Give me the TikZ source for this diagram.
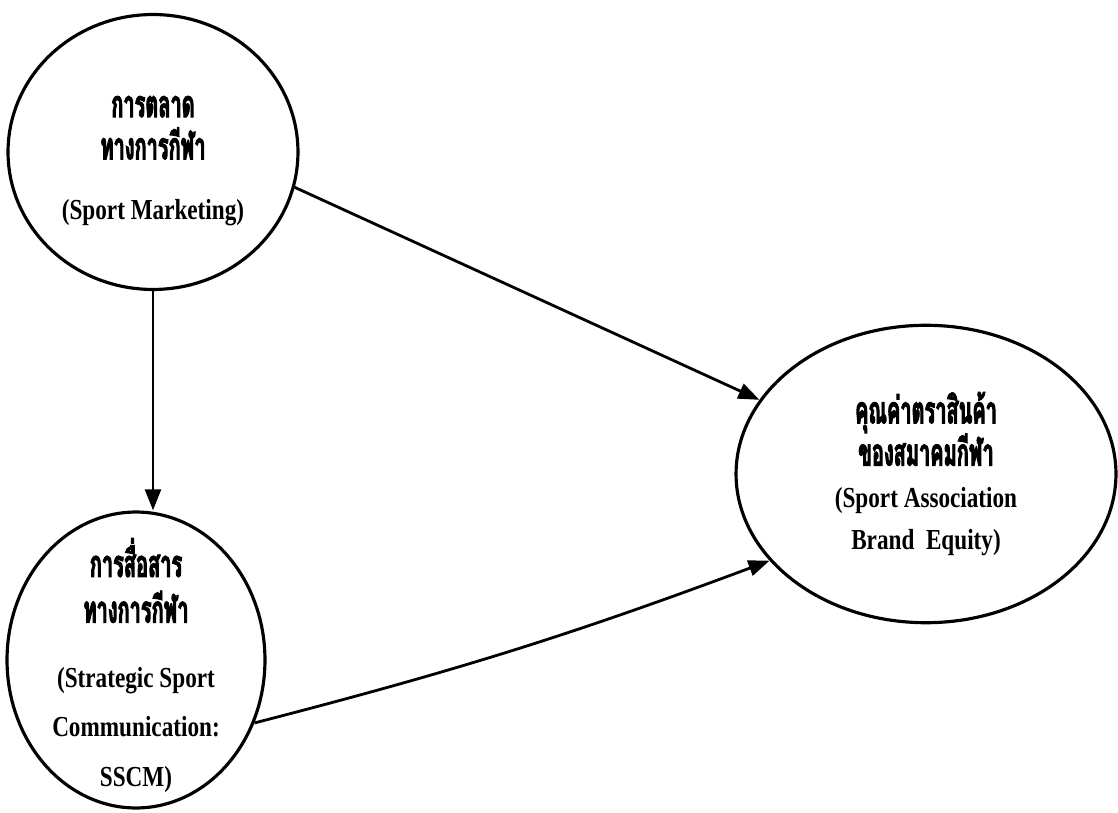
\documentclass[tikz,border=0pt]{standalone}
\usepackage{fontspec}
\setmainfont{Liberation Serif}[FakeStretch=0.8]
\newfontfamily\thaifont[Script=Thai, FakeBold=2.5, FakeStretch=0.53, Scale=1.3]{Loma}
\usetikzlibrary{shapes.geometric, arrows.meta}

\begin{document}
\begin{tikzpicture}[x=0.02cm, y=-0.02cm, thick,
        construct/.style={draw, ellipse, line width=1.8pt, inner sep=-30pt, align=center, font=\bfseries\fontsize{16.5}{24}\selectfont},
        arrow/.style={-{Triangle[length=12pt, width=9pt]}, line width=1.6pt}]

        \useasboundingbox (0,0) rectangle (1118,813);

        % Nodes
        \node [construct, minimum width=5.8cm, minimum height=5.5cm] (mkt) at (153,152)
            {\rule{0pt}{22pt}{\thaifont การตลาด}\\{\thaifont ทางการกีฬา}\\[10pt](Sport Marketing)};
        \node [construct, minimum width=5.16cm, minimum height=5.92cm] (comm) at (136,660)
            {\rule{0pt}{28pt}{\thaifont การสื่อสาร}\\[2pt]{\thaifont ทางการกีฬา}\\[13pt](Strategic Sport\\[4pt]Communication:\\[4pt]SSCM)};
        \node [construct, minimum width=7.6cm, minimum height=5.95cm] (brand) at (926,474)
            {{\thaifont คุณค่าตราสินค้า}\\{\thaifont ของสมาคมกีฬา}\\(Sport Association\\Brand~~Equity)};

        % Arrows
        \draw [arrow] (mkt.south) -- (comm.north -| mkt.south);
        \draw [arrow] (mkt.-14) -- (brand.156);
        \draw [arrow] (comm.-28) to [bend right=3] (brand.209);
\end{tikzpicture}
\end{document}
